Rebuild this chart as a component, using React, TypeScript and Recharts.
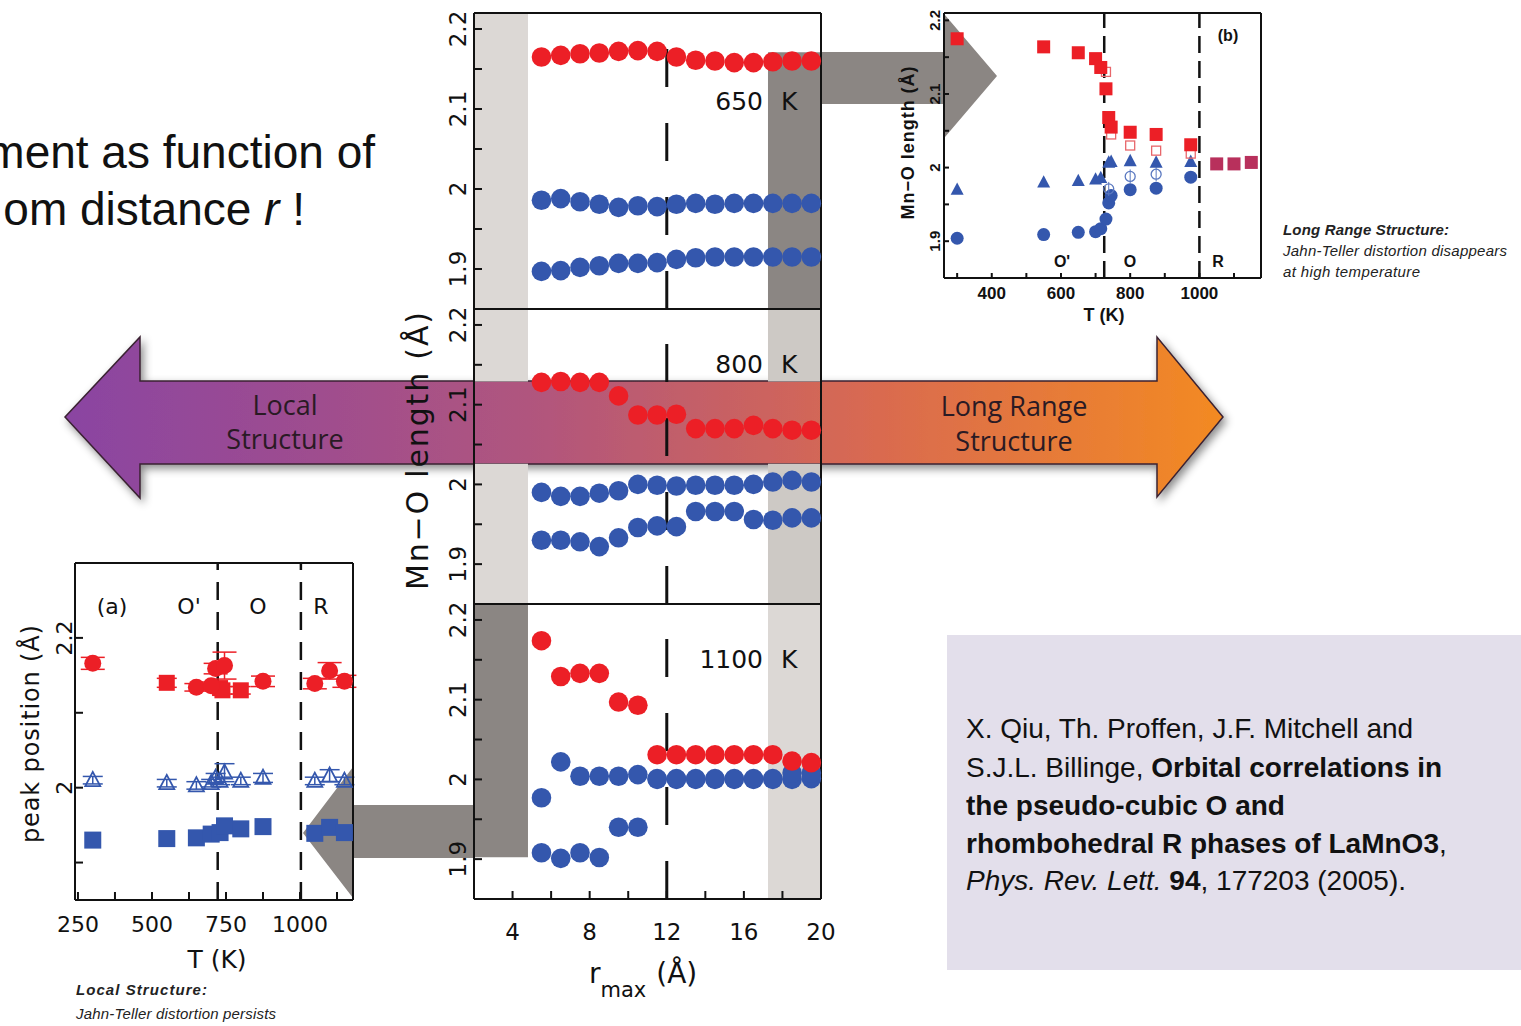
import React from "react";
import {
  ScatterChart,
  Scatter,
  XAxis,
  YAxis,
  ReferenceArea,
  ReferenceLine,
  ErrorBar,
} from "recharts";

// ---- main panels: Mn-O bond lengths vs r_max window ----
const rMax = [5.5, 6.5, 7.5, 8.5, 9.5, 10.5, 11.5, 12.5, 13.5, 14.5, 15.5, 16.5, 17.5, 18.5, 19.5];

const red650 = [2.165, 2.167, 2.169, 2.17, 2.172, 2.173, 2.172, 2.165, 2.161, 2.16, 2.158, 2.158, 2.159, 2.16, 2.16];
const blueHi650 = [1.986, 1.988, 1.984, 1.981, 1.977, 1.979, 1.978, 1.981, 1.982, 1.981, 1.982, 1.982, 1.982, 1.982, 1.982];
const blueLo650 = [1.897, 1.898, 1.902, 1.904, 1.907, 1.907, 1.908, 1.912, 1.914, 1.915, 1.915, 1.915, 1.915, 1.915, 1.915];

const red800 = [2.128, 2.129, 2.128, 2.128, 2.111, 2.087, 2.087, 2.088, 2.07, 2.07, 2.07, 2.074, 2.07, 2.068, 2.068];
const blueHi800 = [1.99, 1.985, 1.985, 1.989, 1.992, 2.0, 1.999, 1.998, 1.999, 1.999, 1.999, 2.0, 2.003, 2.005, 2.003];
const blueLo800 = [1.93, 1.93, 1.928, 1.922, 1.933, 1.946, 1.948, 1.947, 1.966, 1.966, 1.966, 1.956, 1.955, 1.958, 1.958];

const red1100 = [2.174, 2.129, 2.133, 2.133, 2.097, 2.093, 2.031, 2.031, 2.031, 2.031, 2.031, 2.031, 2.031, 2.023, 2.021];
const blueHi1100 = [1.977, 2.022, 2.004, 2.004, 2.004, 2.006, 2.001, 2.001, 2.001, 2.001, 2.001, 2.001, 2.001, 2.008, 2.008];
const blueLo1100 = [1.908, 1.901, 1.908, 1.902, 1.94, 1.94, 2.0, 2.0, 2.0, 2.0, 2.0, 2.0, 2.0, 2.0, 2.001];

const rTicks = [2, 4, 6, 8, 10, 12, 14, 16, 18, 20];
const lenTicks = [1.85, 1.9, 1.95, 2, 2.05, 2.1, 2.15, 2.2];

// ---- inset (b): average structure vs T ----
const tempBRed = [300, 550, 650, 700, 715, 730, 738, 745, 800, 875, 975];
const redB = [2.175, 2.164, 2.156, 2.148, 2.136, 2.107, 2.068, 2.055, 2.048, 2.045, 2.031];
const tempBRhombo = [1050, 1100, 1150];
const rhomboB = [2.005, 2.005, 2.007];
const tempBRedOpen = [730, 745, 800, 875, 975];
const redOpenB = [2.13, 2.045, 2.03, 2.023, 2.019];
const tempBTri = [300, 550, 650, 700, 715, 738, 745, 800, 875, 975];
const triB = [1.97, 1.98, 1.982, 1.984, 1.986, 2.007, 2.008, 2.009, 2.007, 2.008];
const tempBOpenCirc = [738, 800, 875];
const openCircB = [1.971, 1.988, 1.991];
const tempBCirc = [300, 550, 650, 700, 715, 730, 738, 745, 800, 875, 975];
const circB = [1.904, 1.909, 1.912, 1.913, 1.917, 1.93, 1.952, 1.962, 1.97, 1.972, 1.987];
const tTicksB = [300, 400, 500, 600, 700, 800, 900, 1000, 1100];
const yTicksB = [1.9, 1.95, 2, 2.05, 2.1, 2.15, 2.2];

// ---- inset (a): local peak positions vs T ----
const tempARedCirc = [300, 650, 700, 715, 745, 875, 1050, 1100, 1150];
const redCircA = [2.166, 2.134, 2.136, 2.159, 2.163, 2.142, 2.139, 2.156, 2.142];
const redCircErrA = [0.008, 0.005, 0.005, 0.007, 0.018, 0.007, 0.007, 0.011, 0.008];
const tempARedSq = [550, 730, 738, 800];
const redSqA = [2.14, 2.133, 2.13, 2.13];
const redSqErrA = [0.006, 0.005, 0.005, 0.005];
const tempATri = [300, 550, 650, 700, 715, 730, 745, 800, 875, 1050, 1100, 1150];
const triA = [2.01, 2.006, 2.003, 2.006, 2.013, 2.009, 2.02, 2.009, 2.013, 2.009, 2.016, 2.009];
const triErrA = [0.005, 0.005, 0.005, 0.005, 0.006, 0.005, 0.012, 0.005, 0.006, 0.005, 0.008, 0.005];
const tempASq = [300, 550, 650, 700, 730, 745, 800, 875, 1050, 1100, 1150];
const blueSqA = [1.93, 1.932, 1.933, 1.938, 1.94, 1.949, 1.945, 1.948, 1.939, 1.947, 1.94];
const tTicksA = [250, 375, 500, 625, 750, 875, 1000, 1125];
const yTicksA = [1.9, 2.0, 2.1, 2.2];

const RED = "#ec1f26";
const BLUE = "#3457ad";
const RHOMBO = "#b8305c";
const LIGHT = "#dcd8d5";
const LIGHT2 = "#cdc9c5";
const DARK = "#8b8683";
const INK = "#111";
const SANS = "'Liberation Sans', Arial, sans-serif";
const WIDE = "'DejaVu Sans', sans-serif";
const NARROW = "'Liberation Sans Narrow', 'Liberation Sans', sans-serif";

const AXIS = { stroke: INK, strokeWidth: 2 };

type Pt = { x: number; y: number; e: number };
const zip = (xs: number[], ys: number[], es?: number[]): Pt[] =>
  xs.map((x, i) => ({ x, y: ys[i], e: es ? es[i] : 0 }));

// marker shapes
const dot = (r: number, fill: string) => (p: any) => (
  <circle cx={p.cx} cy={p.cy} r={r} fill={fill} />
);
const ring = (r: number, color: string) => (p: any) => (
  <g>
    <circle cx={p.cx} cy={p.cy} r={r} fill="none" stroke={color} strokeWidth={1.3} />
    <line x1={p.cx} x2={p.cx} y1={p.cy - r - 2} y2={p.cy + r + 2} stroke={color} strokeWidth={1} />
  </g>
);
const square = (s: number, color: string, open = false) => (p: any) => (
  <rect
    x={p.cx - s / 2}
    y={p.cy - s / 2}
    width={s}
    height={s}
    fill={open ? "none" : color}
    stroke={open ? color : "none"}
    strokeWidth={1.3}
  />
);
const tri = (s: number, color: string, open = false) => (p: any) => {
  const pts = `${p.cx},${p.cy - s * 0.55} ${p.cx + s / 2},${p.cy + s * 0.4} ${p.cx - s / 2},${p.cy + s * 0.4}`;
  return (
    <polygon
      points={pts}
      fill={open ? "none" : color}
      stroke={color}
      strokeWidth={open ? 1.8 : 0}
    />
  );
};

// rotated y tick labels
const lenTick = (p: any) => {
  const v = p.payload.value as number;
  const k = Math.round(v * 100);
  if (k % 10 !== 0) return <g />;
  return (
    <text x={p.x} y={p.y} transform={`rotate(-90 ${p.x} ${p.y})`} textAnchor="middle" fontSize={23} fontFamily={WIDE} fill={INK}>
      {k === 200 ? "2" : v.toFixed(1)}
    </text>
  );
};

const rTick = (p: any) => {
  const v = p.payload.value as number;
  if (v % 4 !== 0) return <g />;
  return (
    <text x={p.x} y={p.y} textAnchor="middle" fontSize={23} fontFamily={WIDE} fill={INK}>
      {v}
    </text>
  );
};

type Band = { x1: number; x2: number; y1?: number; y2?: number; fill: string };

function Panel({
  top,
  height,
  red,
  hi,
  lo,
  bands,
  showX = false,
}: {
  top: number;
  height: number;
  red: number[];
  hi: number[];
  lo: number[];
  bands: Band[];
  showX?: boolean;
}) {
  const mt = 10;
  const mb = showX ? 70 : 10;
  return (
    <div style={{ position: "absolute", left: 400, top: top - mt - 1 }}>
      <ScatterChart width={442} height={height + mt + mb + 2} margin={{ top: mt, right: 20, bottom: mb, left: 0 }}>
        <XAxis xAxisId={0} type="number" dataKey="x" domain={[2, 20]} ticks={rTicks} interval={0} height={1} tickSize={-8} tickMargin={49} axisLine={AXIS} tickLine={AXIS} tick={showX ? rTick : false} />
        <XAxis xAxisId="top" orientation="top" type="number" domain={[2, 20]} ticks={rTicks} interval={0} height={1} tickSize={-8} axisLine={AXIS} tickLine={AXIS} tick={false} />
        <YAxis yAxisId={0} type="number" dataKey="y" domain={[1.85, 2.22]} ticks={lenTicks} interval={0} width={74} tickSize={-8} tickMargin={16} axisLine={AXIS} tickLine={AXIS} tick={lenTick} />
        <YAxis yAxisId="right" orientation="right" type="number" domain={[1.85, 2.22]} ticks={lenTicks} interval={0} width={1} tickSize={-8} axisLine={AXIS} tickLine={AXIS} tick={false} />
        {bands.map((b, i) => (
          <ReferenceArea key={i} x1={b.x1} x2={b.x2} y1={b.y1 ?? 1.85} y2={b.y2 ?? 2.22} fill={b.fill} fillOpacity={1} stroke="none" />
        ))}
        <Scatter data={zip(rMax, lo)} shape={dot(9.8, BLUE)} isAnimationActive={false} />
        <Scatter data={zip(rMax, hi)} shape={dot(9.8, BLUE)} isAnimationActive={false} />
        <Scatter data={zip(rMax, red)} shape={dot(9.8, RED)} isAnimationActive={false} />
        <ReferenceLine x={12} stroke={INK} strokeWidth={3} strokeDasharray="38 36" />
      </ScatterChart>
    </div>
  );
}

const insetBTick = (p: any) => {
  const v = p.payload.value as number;
  if (v % 200 !== 0) return <g />;
  return (
    <text x={p.x} y={p.y} textAnchor="middle" fontSize={17} fontWeight="bold" fontFamily={SANS} fill={INK}>
      {v}
    </text>
  );
};
const insetBYTick = (p: any) => {
  const v = p.payload.value as number;
  const k = Math.round(v * 100);
  if (k % 10 !== 0) return <g />;
  return (
    <text x={p.x} y={p.y} transform={`rotate(-90 ${p.x} ${p.y})`} textAnchor="middle" fontSize={15} fontWeight="bold" fontFamily={SANS} fill={INK}>
      {k === 200 ? "2" : v.toFixed(1)}
    </text>
  );
};

function InsetB() {
  const thin = { stroke: INK, strokeWidth: 2 };
  return (
    <div style={{ position: "absolute", left: 900, top: 2 }}>
      <ScatterChart width={382} height={337} margin={{ top: 10, right: 20, bottom: 60, left: 0 }}>
        <XAxis xAxisId={0} type="number" dataKey="x" domain={[262, 1178]} ticks={tTicksB} interval={0} height={1} tickSize={-5} tickMargin={26} axisLine={thin} tickLine={thin} tick={insetBTick} />
        <XAxis xAxisId="top" orientation="top" type="number" domain={[262, 1178]} ticks={tTicksB} interval={0} height={1} tickSize={-5} axisLine={thin} tickLine={thin} tick={false} />
        <YAxis yAxisId={0} type="number" dataKey="y" domain={[1.85, 2.21]} ticks={yTicksB} interval={0} width={44} tickSize={-5} tickMargin={9} axisLine={thin} tickLine={thin} tick={insetBYTick} />
        <YAxis yAxisId="right" orientation="right" type="number" domain={[1.85, 2.21]} ticks={yTicksB} interval={0} width={1} tickSize={-5} axisLine={thin} tickLine={thin} tick={false} />
        <ReferenceLine x={725} stroke={INK} strokeWidth={2.5} strokeDasharray="17 8" />
        <ReferenceLine x={1000} stroke={INK} strokeWidth={2.5} strokeDasharray="17 8" />
        <Scatter data={zip(tempBCirc, circB)} shape={dot(6.5, BLUE)} isAnimationActive={false} />
        <Scatter data={zip(tempBOpenCirc, openCircB)} shape={ring(5, "#5a78c0")} isAnimationActive={false} />
        <Scatter data={zip(tempBTri, triB)} shape={tri(13, BLUE)} isAnimationActive={false} />
        <Scatter data={zip(tempBRedOpen, redOpenB)} shape={square(9, "#e8676b", true)} isAnimationActive={false} />
        <Scatter data={zip(tempBRed, redB)} shape={square(13, RED)} isAnimationActive={false} />
        <Scatter data={zip(tempBRhombo, rhomboB)} shape={square(13, RHOMBO)} isAnimationActive={false} />
      </ScatterChart>
    </div>
  );
}

const insetATick = (p: any) => {
  const v = p.payload.value as number;
  if (v % 250 !== 0) return <g />;
  return (
    <text x={p.x} y={p.y} textAnchor="middle" fontSize={22} fontFamily={WIDE} fill={INK}>
      {v}
    </text>
  );
};
const insetAYTick = (p: any) => {
  const v = p.payload.value as number;
  const k = Math.round(v * 10);
  if (k !== 20 && k !== 22) return <g />;
  return (
    <text x={p.x} y={p.y} transform={`rotate(-90 ${p.x} ${p.y})`} textAnchor="middle" fontSize={22} fontFamily={WIDE} fill={INK}>
      {k === 20 ? "2" : "2.2"}
    </text>
  );
};

function InsetA() {
  return (
    <div style={{ position: "absolute", left: 20, top: 552 }}>
      <ScatterChart width={354} height={429} margin={{ top: 10, right: 20, bottom: 80, left: 0 }}>
        <XAxis xAxisId={0} type="number" dataKey="x" domain={[240, 1179]} ticks={tTicksA} interval={0} height={1} tickSize={-8} tickMargin={40} axisLine={AXIS} tickLine={AXIS} tick={insetATick} />
        <XAxis xAxisId="top" orientation="top" type="number" domain={[240, 1179]} ticks={tTicksA} interval={0} height={1} tickSize={-8} axisLine={AXIS} tickLine={AXIS} tick={false} />
        <YAxis yAxisId={0} type="number" dataKey="y" domain={[1.85, 2.3]} ticks={yTicksA} interval={0} width={55} tickSize={-8} tickMargin={11} axisLine={AXIS} tickLine={AXIS} tick={insetAYTick} />
        <YAxis yAxisId="right" orientation="right" type="number" domain={[1.85, 2.3]} ticks={yTicksA} interval={0} width={1} tickSize={-8} axisLine={AXIS} tickLine={AXIS} tick={false} />
        <ReferenceLine x={722} stroke={INK} strokeWidth={2.5} strokeDasharray="18 12" />
        <ReferenceLine x={1003} stroke={INK} strokeWidth={2.5} strokeDasharray="18 12" />
        <Scatter data={zip(tempASq, blueSqA)} shape={square(17, BLUE)} isAnimationActive={false} />
        <Scatter data={zip(tempATri, triA, triErrA)} shape={tri(15, BLUE, true)} isAnimationActive={false}>
          <ErrorBar dataKey="e" direction="y" width={10} stroke={BLUE} strokeWidth={1.5} />
        </Scatter>
        <Scatter data={zip(tempARedSq, redSqA, redSqErrA)} shape={square(16, RED)} isAnimationActive={false}>
          <ErrorBar dataKey="e" direction="y" width={10} stroke={RED} strokeWidth={1.5} />
        </Scatter>
        <Scatter data={zip(tempARedCirc, redCircA, redCircErrA)} shape={dot(8.5, RED)} isAnimationActive={false}>
          <ErrorBar dataKey="e" direction="y" width={12} stroke={RED} strokeWidth={1.5} />
        </Scatter>
      </ScatterChart>
    </div>
  );
}

// arrows drawn underneath the charts
function Backdrop() {
  return (
    <svg width={1521} height={1026} style={{ position: "absolute", left: 0, top: 0 }}>
      <defs>
        <linearGradient id="bigArrow" gradientUnits="userSpaceOnUse" x1={65} y1={0} x2={1223} y2={0}>
          <stop offset="0" stopColor="#8a44a2" />
          <stop offset="0.4" stopColor="#b0557e" />
          <stop offset="0.7" stopColor="#d96a50" />
          <stop offset="1" stopColor="#f38a22" />
        </linearGradient>
        <filter id="shade" x="-5%" y="-30%" width="110%" height="160%">
          <feDropShadow dx={3} dy={4} stdDeviation={4} floodColor="#000" floodOpacity={0.45} />
        </filter>
      </defs>
      <polygon points="820,52 945,52 945,15 997,76 945,137 945,104 820,104" fill={DARK} />
      <polygon points="474,805 353,805 353,767 303,833 353,898 353,858 474,858" fill={DARK} />
      <polygon
        points="65,417 140,337 140,381 1157,381 1157,337 1223,417 1157,497 1157,464 140,464 140,498"
        fill="url(#bigArrow)"
        stroke="#3a2232"
        strokeWidth={1.5}
        filter="url(#shade)"
      />
      <g fontFamily="'Open Sans', sans-serif" fontSize={27} fill="#2a1a24" textAnchor="middle">
        <text x={285} y={415}>Local</text>
        <text x={285} y={449}>Structure</text>
        <text x={1014} y={416}>Long Range</text>
        <text x={1014} y={451}>Structure</text>
      </g>
    </svg>
  );
}

// free text drawn above the charts
function Annotations() {
  return (
    <svg width={1521} height={1026} style={{ position: "absolute", left: 0, top: 0, pointerEvents: "none" }}>
      <g fontFamily={SANS} fontSize={46} fill={INK} textAnchor="end">
        <text x={375} y={168}>ment as function of</text>
        <text x={305} y={225}>
          om distance <tspan fontStyle="italic">r</tspan> !
        </text>
      </g>

      {/* main panel labels */}
      <g fontFamily={WIDE} fontSize={25} fill={INK}>
        <text x={763} y={110} textAnchor="end">650</text>
        <text x={781} y={110}>K</text>
        <text x={763} y={373} textAnchor="end">800</text>
        <text x={781} y={373}>K</text>
        <text x={763} y={668} textAnchor="end">1100</text>
        <text x={781} y={668}>K</text>
      </g>
      <text x={428} y={451} transform="rotate(-90 428 451)" textAnchor="middle" fontFamily={WIDE} fontSize={30} fill={INK} textLength={278}>
        Mn−O length (Å)
      </text>
      <text x={589} y={983} fontFamily={WIDE} fontSize={28} fill={INK}>
        r<tspan fontSize={21} dy={14}>max</tspan>
        <tspan dx={10} dy={-14}>(Å)</tspan>
      </text>

      {/* inset (b) labels */}
      <g fontFamily={SANS} fontWeight="bold" fill={INK} textAnchor="middle">
        <text x={1228} y={41} fontSize={16}>(b)</text>
        <text x={1062} y={267} fontSize={16}>O'</text>
        <text x={1130} y={267} fontSize={16}>O</text>
        <text x={1218} y={267} fontSize={16}>R</text>
        <text x={1104} y={321} fontSize={18}>T (K)</text>
        <text x={914} y={143} fontSize={18} transform="rotate(-90 914 143)" textLength={153}>
          Mn−O length (Å)
        </text>
      </g>
      <g fontFamily={NARROW} fontStyle="italic" fill="#222">
        <text x={1283} y={235} fontSize={15} fontWeight="bold" textLength={166}>Long Range Structure:</text>
        <text x={1283} y={256} fontSize={15} textLength={224}>Jahn-Teller distortion disappears</text>
        <text x={1283} y={277} fontSize={15} textLength={137}>at high temperature</text>
      </g>

      {/* inset (a) labels */}
      <g fontFamily={WIDE} fill={INK} textAnchor="middle">
        <text x={112} y={614} fontSize={22}>(a)</text>
        <text x={189} y={614} fontSize={22}>O'</text>
        <text x={258} y={614} fontSize={22}>O</text>
        <text x={321} y={614} fontSize={22}>R</text>
        <text x={217} y={968} fontSize={25}>T (K)</text>
        <text x={39} y={734} fontSize={24} transform="rotate(-90 39 734)" textLength={218}>
          peak position (Å)
        </text>
      </g>
      <g fontFamily={NARROW} fontStyle="italic" fill="#222">
        <text x={76} y={995} fontSize={15} fontWeight="bold" textLength={131}>Local Structure:</text>
        <text x={76} y={1019} fontSize={15} textLength={200}>Jahn-Teller distortion persists</text>
      </g>

      {/* reference box */}
      <rect x={947} y={635} width={574} height={335} fill="#e3dfeb" />
      <g fontFamily={SANS} fontSize={28} fill={INK}>
        <text x={966} y={738}>X. Qiu, Th. Proffen, J.F. Mitchell and</text>
        <text x={966} y={777}>
          S.J.L. Billinge, <tspan fontWeight="bold">Orbital correlations in</tspan>
        </text>
        <text x={966} y={815} fontWeight="bold">the pseudo-cubic O and</text>
        <text x={966} y={853}>
          <tspan fontWeight="bold">rhombohedral R phases of LaMnO3</tspan>,
        </text>
        <text x={966} y={890}>
          <tspan fontStyle="italic">Phys. Rev. Lett.</tspan> <tspan fontWeight="bold">94</tspan>, 177203 (2005).
        </text>
      </g>
    </svg>
  );
}

export default function App() {
  return (
    <div
      style={{
        position: "absolute",
        left: 0,
        top: 0,
        width: 1521,
        height: 1026,
        background: "#fff",
        overflow: "hidden",
      }}
    >
      <Backdrop />
      <Panel
        top={13}
        height={296}
        red={red650}
        hi={blueHi650}
        lo={blueLo650}
        bands={[
          { x1: 2, x2: 4.8, fill: LIGHT },
          { x1: 17.25, x2: 20, y2: 2.171, fill: DARK },
        ]}
      />
      <Panel
        top={309}
        height={295}
        red={red800}
        hi={blueHi800}
        lo={blueLo800}
        bands={[
          { x1: 2, x2: 4.8, y2: 2.026, fill: LIGHT },
          { x1: 2, x2: 4.8, y1: 2.129, fill: LIGHT },
          { x1: 17.25, x2: 20, y2: 2.026, fill: LIGHT2 },
          { x1: 17.25, x2: 20, y1: 2.129, fill: LIGHT2 },
        ]}
      />
      <Panel
        top={604}
        height={295}
        red={red1100}
        hi={blueHi1100}
        lo={blueLo1100}
        showX
        bands={[
          { x1: 2, x2: 4.8, y1: 1.9025, fill: DARK },
          { x1: 17.25, x2: 20, fill: LIGHT },
        ]}
      />
      <InsetB />
      <InsetA />
      <Annotations />
    </div>
  );
}
